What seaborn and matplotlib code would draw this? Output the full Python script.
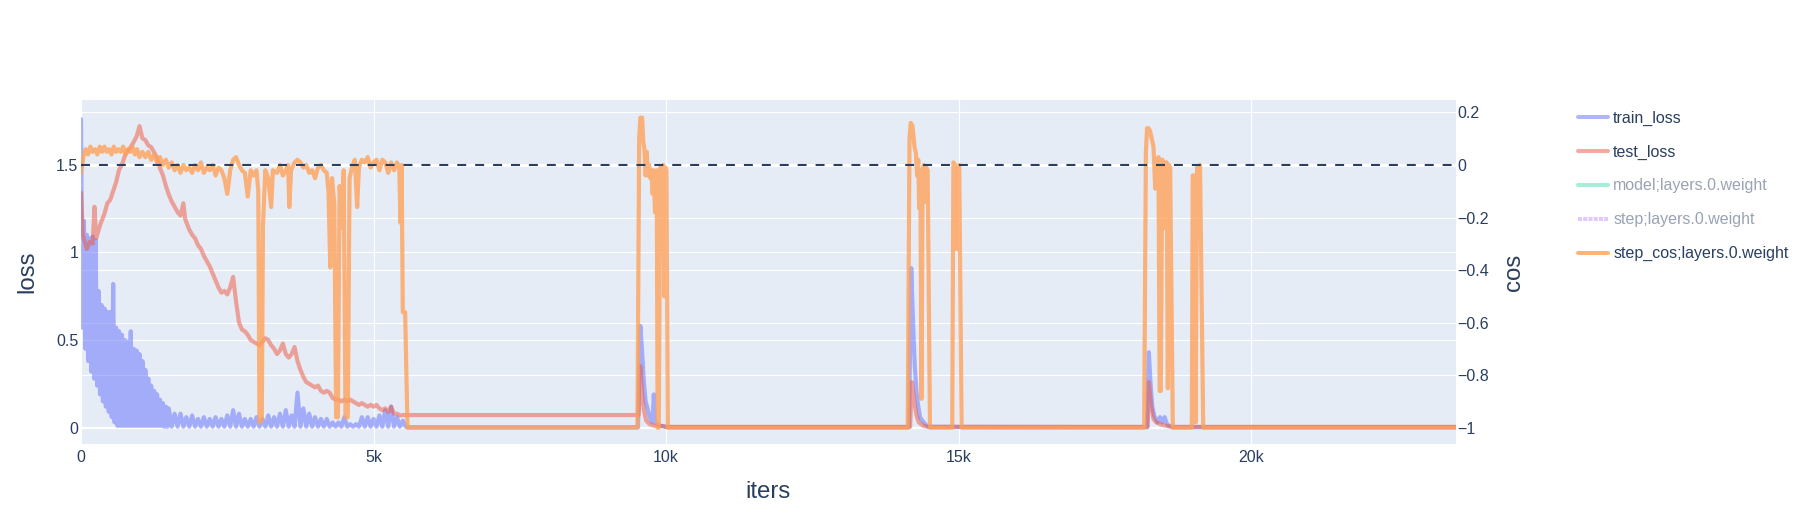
import numpy as np
import seaborn as sns
import matplotlib.pyplot as plt
from matplotlib.lines import Line2D
from matplotlib.ticker import FuncFormatter

# ---------------- data ----------------
train_iters = [
    0, 25, 50, 75, 100, 125, 150, 175, 200, 225, 250, 275, 300, 325, 350, 375, 400,
    425, 450, 475, 500, 525, 550, 575, 600, 625, 650, 675, 700, 725, 750, 775, 800,
    825, 850, 875, 900, 925, 950, 975, 1000, 1025, 1050, 1075, 1100, 1125, 1150, 1175,
    1200, 1225, 1250, 1275, 1300, 1325, 1350, 1375, 1400, 1425, 1450, 1475,
    1500, 1550, 1600, 1650, 1700, 1750, 1800, 1850, 1900, 1950, 2000, 2050, 2100,
    2150, 2200, 2250, 2300, 2350, 2400, 2450, 2500, 2550, 2600, 2650, 2700, 2750,
    2800, 2850, 2900, 2950, 3000, 3050, 3100, 3150, 3200, 3250, 3300, 3350, 3400,
    3450, 3500, 3550, 3600, 3650, 3700, 3750, 3800, 3850, 3900, 3950, 4000, 4050,
    4100, 4150, 4200, 4250, 4300, 4350, 4400, 4450, 4500, 4550, 4600, 4650, 4700,
    4750, 4800, 4850, 4900, 4950, 5000, 5050, 5100, 5150, 5200, 5250, 5300, 5350,
    5400, 5450, 5500, 5550,
    5600, 9520, 9560, 9590, 9620, 9650, 9690, 9730, 9770, 9790, 9810, 9850, 9900,
    9950, 10000, 14150, 14190, 14220, 14250, 14280, 14310, 14340, 14380, 14430,
    14480, 18220, 18250, 18280, 18310, 18340, 18370, 18400, 18440, 18480, 18520,
    18560, 18600, 18650, 23500,
]
train_loss = [
    1.76, 0.57, 1.18, 0.45, 1.10, 0.38, 1.08, 0.32, 1.09, 0.28, 1.07, 0.24, 0.78, 0.19,
    0.70, 0.15, 0.68, 0.12, 0.66, 0.09, 0.66, 0.06, 0.82, 0.03, 0.57, 0.01, 0.55, 0.01,
    0.53, 0.01, 0.50, 0.01, 0.49, 0.01, 0.55, 0.01, 0.45, 0.01, 0.44, 0.01, 0.42, 0.01,
    0.38, 0.01, 0.33, 0.01, 0.28, 0.01, 0.24, 0.01, 0.21, 0.01, 0.19, 0.01, 0.16, 0.01,
    0.14, 0.005, 0.12, 0.005,
    0.11, 0.005, 0.08, 0.005, 0.08, 0.005, 0.06, 0.005, 0.07, 0.005, 0.05,
    0.005, 0.06, 0.005, 0.05, 0.005, 0.06, 0.005, 0.05, 0.005, 0.07, 0.005, 0.10, 0.005,
    0.08, 0.005, 0.05, 0.005, 0.05, 0.005, 0.06, 0.005, 0.05, 0.005, 0.07, 0.005, 0.06,
    0.005, 0.08, 0.005, 0.10, 0.005, 0.07, 0.005, 0.20, 0.005, 0.11, 0.005, 0.08, 0.005,
    0.06, 0.005, 0.05, 0.005, 0.05, 0.005, 0.03, 0.005, 0.03, 0.005, 0.06, 0.005, 0.02,
    0.005, 0.02, 0.005, 0.06, 0.005, 0.06, 0.005, 0.05, 0.005, 0.07, 0.005, 0.10, 0.005,
    0.12, 0.005, 0.06, 0.005, 0.04, 0.005,
    0.003, 0.003, 0.58, 0.43, 0.26, 0.15, 0.10, 0.05, 0.03, 0.19, 0.03, 0.02, 0.01,
    0.01, 0.003, 0.003, 0.91, 0.60, 0.35, 0.20, 0.12, 0.06, 0.04, 0.02,
    0.005, 0.003, 0.43, 0.25, 0.12, 0.07, 0.05, 0.03, 0.06, 0.03, 0.06,
    0.02, 0.01, 0.003, 0.003,
]

test_iters = [
    0, 30, 100, 150, 200, 230, 260, 330, 400, 450, 500, 550, 600, 650, 700, 750, 800,
    850, 900, 950, 1000, 1050, 1100, 1150, 1200, 1250, 1300, 1350, 1400, 1450, 1500,
    1550, 1600, 1650, 1700, 1750, 1780, 1850, 1900, 1950, 2000, 2050, 2100, 2150, 2200,
    2250, 2300, 2350, 2400, 2450, 2500, 2550, 2600, 2650, 2700, 2750, 2800, 2850, 2900,
    2950, 3000, 3050, 3100, 3150, 3200, 3250, 3300, 3350, 3400, 3450, 3500, 3550, 3600,
    3650, 3700, 3750, 3800, 3850, 3900, 3950, 4000, 4050, 4100, 4150, 4200, 4250, 4300,
    4350, 4400, 4450, 4500, 4550, 4600, 4650, 4700, 4750, 4800, 4850, 4900, 4950, 5000,
    5050, 5100, 5150, 5200, 5250, 5300, 5350, 5400, 5450, 5500, 5600,
    9530, 9560, 9590, 9620, 9660, 9720, 9800, 9900, 10000, 14170, 14200, 14240, 14280,
    14320, 14400, 14480, 18230, 18250, 18290, 18330, 18380, 18450, 18550, 18650, 23500,
]
test_loss = [
    1.34, 1.10, 1.02, 1.06, 1.05, 1.26, 1.08, 1.16, 1.22, 1.28, 1.30, 1.35, 1.40, 1.47,
    1.50, 1.55, 1.58, 1.60, 1.63, 1.66, 1.72, 1.65, 1.64, 1.61, 1.60, 1.57, 1.54, 1.48,
    1.44, 1.38, 1.33, 1.29, 1.26, 1.23, 1.21, 1.28, 1.19, 1.13, 1.10, 1.08, 1.04, 1.02,
    0.98, 0.95, 0.92, 0.88, 0.84, 0.80, 0.77, 0.78, 0.76, 0.80, 0.86, 0.72, 0.60, 0.56,
    0.55, 0.53, 0.50, 0.49, 0.48, 0.47, 0.49, 0.51, 0.50, 0.47, 0.45, 0.42, 0.44, 0.48,
    0.42, 0.40, 0.42, 0.46, 0.38, 0.33, 0.29, 0.26, 0.25, 0.24, 0.23, 0.24, 0.21, 0.20,
    0.21, 0.20, 0.17, 0.16, 0.16, 0.15, 0.16, 0.15, 0.16, 0.15, 0.14, 0.13, 0.14, 0.13,
    0.12, 0.13, 0.12, 0.13, 0.11, 0.10, 0.11, 0.09, 0.12, 0.08, 0.08, 0.07, 0.072, 0.072,
    0.072, 0.35, 0.19, 0.10, 0.04, 0.02, 0.01, 0.01, 0.005, 0.005, 0.26, 0.15, 0.07,
    0.03, 0.01, 0.005, 0.005, 0.26, 0.12, 0.05, 0.03, 0.02, 0.01, 0.005, 0.005,
]

cos_iters = [
    0, 40, 80, 120, 160, 200, 240, 280, 320, 360, 400, 440, 480, 520, 560, 600, 640,
    680, 720, 760, 800, 840, 880, 920, 960, 1000, 1050, 1100, 1150, 1200, 1250, 1300,
    1350, 1400, 1450, 1500, 1550, 1600, 1650, 1700, 1750, 1800, 1850, 1900, 1950, 2000,
    2050, 2100, 2150, 2200, 2250, 2300, 2350, 2400, 2450, 2500, 2550, 2600, 2650, 2700,
    2750, 2800, 2850, 2900, 2950, 3000, 3030, 3050, 3090, 3110, 3150, 3200, 3250, 3280,
    3350, 3400, 3450, 3500, 3540, 3560, 3590, 3650, 3700, 3750, 3800, 3850, 3900, 3950,
    4000, 4050, 4100, 4150, 4200, 4230, 4260, 4290, 4330, 4360, 4390, 4420, 4460, 4490,
    4520, 4560, 4590, 4630, 4680, 4720, 4750, 4800, 4850, 4900, 4950, 5000, 5050, 5100,
    5150, 5200, 5250, 5300, 5350, 5400, 5440, 5460, 5480, 5500, 5540, 5580,
    9510, 9540, 9560, 9590, 9610, 9630, 9650, 9670, 9690, 9710, 9730, 9750, 9770, 9790,
    9810, 9840, 9855, 9875, 9900, 9930, 9950, 9970, 9990, 10005, 10030,
    14130, 14160, 14180, 14210, 14245, 14270, 14290, 14310, 14325, 14345, 14365, 14385,
    14405, 14425, 14445, 14470, 14510, 14890, 14910, 14940, 14965, 14985, 15010, 15050,
    18170, 18200, 18220, 18245, 18270, 18300, 18330, 18360, 18385, 18415, 18435, 18455,
    18480, 18500, 18518, 18535, 18555, 18575, 18595, 18615, 18660, 18985, 19000, 19030,
    19050, 19075, 19110, 19125, 19180, 23500,
]
step_cos = [
    -0.03, 0.03, 0.06, 0.04, 0.07, 0.05, 0.06, 0.04, 0.07, 0.05, 0.07, 0.05, 0.06, 0.04,
    0.07, 0.05, 0.06, 0.05, 0.07, 0.04, 0.06, 0.05, 0.07, 0.04, 0.06, 0.03, 0.05, 0.03,
    0.05, 0.02, 0.04, 0.01, 0.03, 0.00, 0.02, -0.01, 0.01, -0.02, 0.00, -0.03, 0.00,
    -0.02, -0.01, -0.03, 0.00, -0.02, 0.01, -0.03, -0.01, -0.02, 0.00, -0.04, -0.01,
    -0.02, -0.05, -0.11, -0.02, 0.02, 0.03, 0.00, -0.02, -0.03, -0.12, -0.02, -0.04,
    -0.02, -0.10, -0.98, -0.97, -0.23, -0.02, -0.05, -0.16, -0.02, -0.03, 0.00, -0.04,
    -0.02, 0.00, -0.16, -0.02, 0.01, 0.02, 0.01, -0.01, 0.00, -0.03, -0.02, -0.05, -0.01,
    0.00, -0.02, -0.03, -0.10, -0.39, -0.05, -0.15, -0.96, -0.96, -0.08, -0.24, -0.02,
    -0.96, -0.96, -0.05, -0.01, 0.02, -0.16, -0.01, 0.02, 0.01, 0.03, -0.01, 0.01, 0.02,
    -0.02, 0.02, 0.01, -0.03, 0.01, -0.02, 0.01, -0.01, -0.22, 0.00, -0.56, -0.56, -1.0,
    -1.0, 0.10, 0.18, 0.18, 0.09, 0.06, -0.04, 0.05, -0.04, 0.00, -0.05, -0.02, -0.11,
    -0.02, -0.18, -0.02, -1.0, -1.0, -0.01, -0.02, 0.00, -0.50, -0.01, -0.02, -1.0,
    -1.0, 0.10, 0.16, 0.15, 0.07, 0.045, -0.04, 0.02, -0.165, -0.02, -0.89, -0.02,
    0.00, -0.14, -0.01, -0.02, -1.0, -1.0, 0.01, 0.00, -0.32, -0.01, 0.00, -1.0,
    -1.0, 0.05, 0.14, 0.14, 0.13, 0.10, 0.07, -0.09, -0.02, 0.03, -0.86, -0.86,
    0.02, 0.01, -0.24, 0.01, 0.01, -0.85, 0.00, -0.01, -1.0, -1.0, -0.04, -0.04,
    -0.98, -0.01, -0.01, 0.00, -1.0, -1.0,
]

ref_cos = 0
x_ticks = [0, 5000, 10000, 15000, 20000]
x_tick_labels = ["0", "5k", "10k", "15k", "20k"]
loss_ticks = [0, 0.5, 1, 1.5]
cos_ticks = [-1, -0.8, -0.6, -0.4, -0.2, 0, 0.2]

legend_labels = ["train_loss", "test_loss", "model;layers.0.weight",
                 "step;layers.0.weight", "step_cos;layers.0.weight"]

# ---------------- style ----------------
BG = "#E5ECF6"
INK = "#2a3f5f"
C_TRAIN, C_TEST, C_MODEL, C_STEP, C_COS = "#636efa", "#EF553B", "#00cc96", "#ab63fa", "#FFA15A"
LW = 3.0

sns.set_theme(style="darkgrid")
plt.rcParams["font.family"] = ["Liberation Sans", "DejaVu Sans"]

fig = plt.figure(figsize=(18.08, 5.25), dpi=100)
rect = [81 / 1808, 1 - 444 / 525, (1456 - 81) / 1808, 344 / 525]

xlim = (0, 23500)
loss_lim = (-0.093, 1.869)
cos_lim = (-1.062, 0.2474)

# background axes: plot colour, x grid and cos grid (all beneath traces)
ax_bg = fig.add_axes(rect, zorder=0)
ax_bg.set_facecolor(BG)
ax_bg.set_xlim(*xlim)
ax_bg.set_ylim(*cos_lim)
ax_bg.set_xticks(x_ticks)
ax_bg.set_yticks(cos_ticks)
ax_bg.grid(True, color="white", linewidth=0.8)
ax_bg.tick_params(labelleft=False, labelbottom=False, length=0)
ax_bg.axhline(ref_cos, color="white", linewidth=2.2)

# loss axes
ax = fig.add_axes(rect, zorder=1)
ax.patch.set_visible(False)
ax.set_xlim(*xlim)
ax.set_ylim(*loss_lim)
ax.set_axisbelow(True)
ax.grid(False)
ax.yaxis.grid(True, color="white", linewidth=0.8)
ax.axhline(0, color="white", linewidth=1.6, zorder=0.5)

sns.lineplot(x=train_iters, y=train_loss, ax=ax, color=C_TRAIN, alpha=0.5,
             linewidth=LW, estimator=None, sort=False, legend=False)
sns.lineplot(x=test_iters, y=test_loss, ax=ax, color=C_TEST, alpha=0.5,
             linewidth=LW, estimator=None, sort=False, legend=False)

# cos axes
ax2 = ax.twinx()
ax2.set_zorder(2)
ax2.patch.set_visible(False)
ax2.grid(False)
ax2.set_ylim(*cos_lim)
sns.lineplot(x=cos_iters, y=step_cos, ax=ax2, color=C_COS, alpha=0.8,
             linewidth=LW, estimator=None, sort=False, legend=False)
ax2.axhline(ref_cos, color=INK, linewidth=1.5, linestyle=(0, (4.3, 4.3)))

# ticks and labels
minus = FuncFormatter(lambda v, p: f"{v:g}".replace("-", "\u2212"))
ax.set_xticks(x_ticks)
ax.set_xticklabels(x_tick_labels)
ax.set_yticks(loss_ticks)
ax.yaxis.set_major_formatter(minus)
ax2.set_yticks(cos_ticks)
ax2.yaxis.set_major_formatter(minus)
ax2.set_xlim(*xlim)

for a in (ax_bg, ax, ax2):
    for s in a.spines.values():
        s.set_visible(False)
ax.tick_params(axis="both", length=0, labelsize=11.5, labelcolor=INK)
ax.tick_params(axis="y", pad=2)
ax.tick_params(axis="x", pad=4)
ax2.tick_params(axis="y", length=0, labelsize=11.5, labelcolor=INK, pad=1)

ax.set_xlabel("iters", fontsize=17.3, color=INK)
ax.set_ylabel("loss", fontsize=17.3, color=INK)
ax2.set_ylabel("cos", fontsize=17.3, color=INK)
ax.xaxis.set_label_coords(0.5, -0.109)
ax.yaxis.set_label_coords(-0.031, 0.5)
ax2.yaxis.set_label_coords(1.034, 0.5)

# legend (hidden traces greyed out)
handles = [
    Line2D([], [], color=C_TRAIN, alpha=0.5, linewidth=2.9),
    Line2D([], [], color=C_TEST, alpha=0.5, linewidth=2.9),
    Line2D([], [], color=C_MODEL, alpha=0.35, linewidth=2.9),
    Line2D([], [], color=C_STEP, alpha=0.35, linewidth=2.9, linestyle=(0, (1, 0.3))),
    Line2D([], [], color=C_COS, alpha=0.8, linewidth=2.9),
]
leg = fig.legend(handles, legend_labels, loc="upper left",
                 bbox_to_anchor=(1578 / 1808, 1 - 110.5 / 525), frameon=False,
                 fontsize=11.5, handlelength=1.9, handletextpad=0.3,
                 labelspacing=1.18, borderpad=0, borderaxespad=0)
for t, c in zip(leg.get_texts(), [INK, INK, "#9aa3b4", "#9aa3b4", INK]):
    t.set_color(c)

fig.savefig("out.png", dpi=100, facecolor="white")
